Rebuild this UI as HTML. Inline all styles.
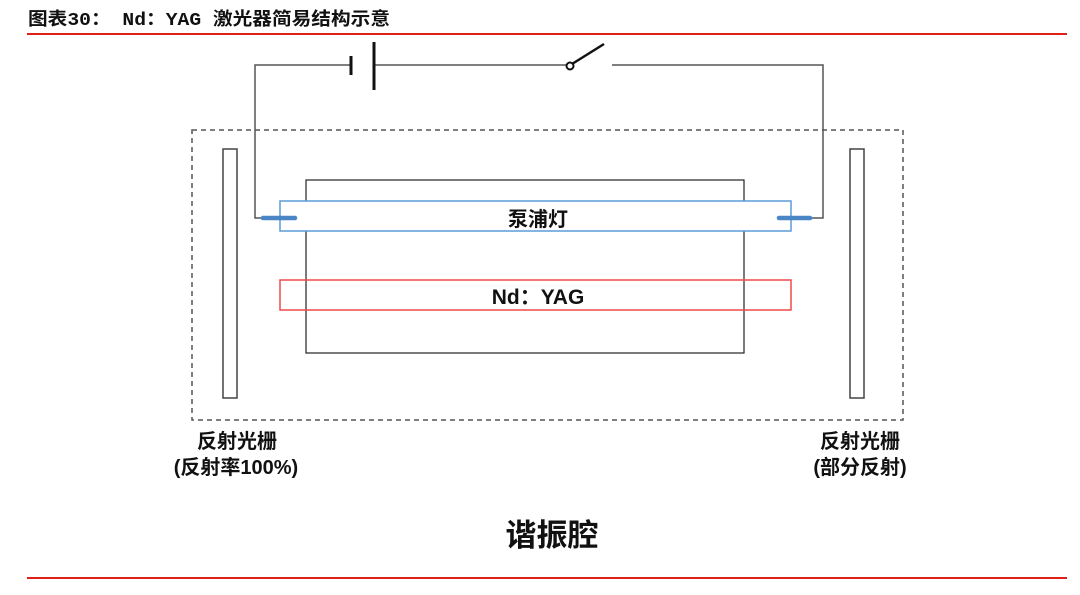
<!DOCTYPE html>
<html><head><meta charset="utf-8"><style>
body{margin:0;background:#fff;width:1080px;height:590px;overflow:hidden}
text{font-family:"Liberation Sans","Noto Sans CJK SC",sans-serif;font-weight:bold;fill:#111}
</style></head><body>
<svg width="1080" height="590" viewBox="0 0 1080 590" xmlns="http://www.w3.org/2000/svg">
<text x="28" y="25" font-size="18" textLength="362" lengthAdjust="spacingAndGlyphs" style="font-family:'Liberation Mono','Noto Sans CJK SC',monospace">图表30： Nd：YAG 激光器简易结构示意</text>
<line x1="27" y1="34" x2="1067" y2="34" stroke="#e0201a" stroke-width="2"/>
<line x1="27" y1="578" x2="1067" y2="578" stroke="#e0201a" stroke-width="2"/>
<g stroke="#555" stroke-width="1.5" fill="none">
<polyline points="350,65 255,65 255,218 263,218"/>
<polyline points="374,65 570,65"/>
<polyline points="612,65 823,65 823,218 810,218"/>
</g>
<line x1="351" y1="56" x2="351" y2="75" stroke="#111" stroke-width="3"/>
<line x1="374" y1="42" x2="374" y2="90" stroke="#111" stroke-width="3"/>
<line x1="572" y1="64" x2="604" y2="44" stroke="#111" stroke-width="2.5"/>
<circle cx="570" cy="66" r="3.5" fill="#fff" stroke="#111" stroke-width="2"/>
<rect x="192" y="130" width="711" height="290" fill="none" stroke="#555" stroke-width="1.5" stroke-dasharray="5,4"/>
<rect x="223" y="149" width="14" height="249" fill="#fff" stroke="#444" stroke-width="1.5"/>
<rect x="850" y="149" width="14" height="249" fill="#fff" stroke="#444" stroke-width="1.5"/>
<rect x="306" y="180" width="438" height="173" fill="none" stroke="#222" stroke-width="1.2"/>
<rect x="280" y="201" width="511" height="30" fill="#fff" stroke="#5b9bd5" stroke-width="1.5"/>
<line x1="263" y1="218" x2="295" y2="218" stroke="#4a86c5" stroke-width="4.5" stroke-linecap="round"/>
<line x1="779" y1="218" x2="810" y2="218" stroke="#4a86c5" stroke-width="4.5" stroke-linecap="round"/>
<text x="538" y="226" font-size="20" text-anchor="middle">泵浦灯</text>
<text x="538" y="304" font-size="21" text-anchor="middle">Nd：YAG</text>
<rect x="280" y="280" width="511" height="30" fill="none" stroke="#f04848" stroke-width="1.5"/>
<text x="237" y="448" font-size="20" text-anchor="middle">反射光栅</text>
<text x="236" y="474" font-size="20" text-anchor="middle">(反射率100%)</text>
<text x="860" y="448" font-size="20" text-anchor="middle">反射光栅</text>
<text x="860" y="474" font-size="20" text-anchor="middle">(部分反射)</text>
<text x="552" y="546" font-size="31" text-anchor="middle">谐振腔</text>
</svg>
</body></html>
